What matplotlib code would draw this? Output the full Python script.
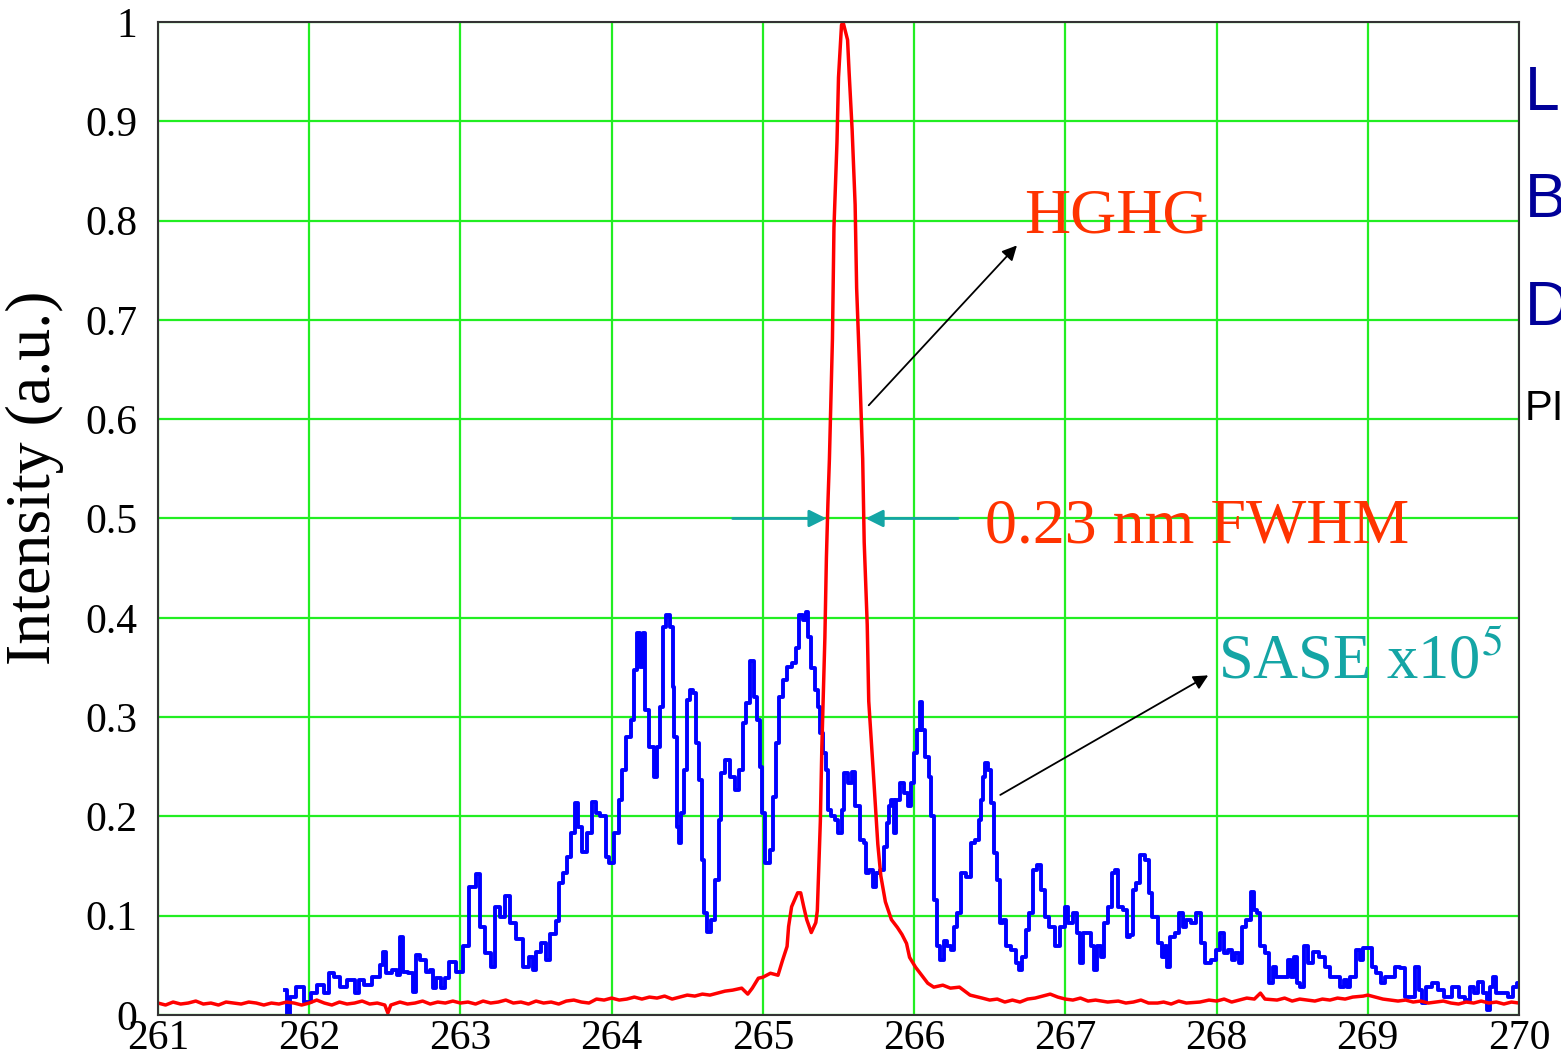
# HGHG vs SASE spectrum, redrawn from the reference picture

import matplotlib
matplotlib.use('Agg')
import matplotlib.pyplot as plt
import numpy as np

plt.rcParams['font.family'] = ['Liberation Serif', 'DejaVu Serif']
plt.rcParams['mathtext.fontset'] = 'stix'

# --- data (wavelength in nm, intensity in a.u.) ---
hghg_wl = [261.00, 261.05, 261.10, 261.15, 261.20, 261.25, 261.30, 261.35, 261.40, 261.45,
           261.50, 261.55, 261.60, 261.65, 261.70, 261.75, 261.80, 261.85, 261.90, 261.95,
           262.00, 262.05, 262.10, 262.15, 262.20, 262.25, 262.30, 262.35, 262.40, 262.45,
           262.50, 262.52, 262.54, 262.60, 262.65, 262.70, 262.75, 262.80, 262.85, 262.90,
           262.95, 263.00, 263.05, 263.10, 263.15, 263.20, 263.25, 263.30, 263.35, 263.40,
           263.45, 263.50, 263.55, 263.60, 263.65, 263.70, 263.75, 263.80, 263.85, 263.90,
           263.95, 264.00, 264.05, 264.10, 264.15, 264.20, 264.25, 264.30, 264.35, 264.40,
           264.45, 264.50, 264.55, 264.60, 264.65, 264.70, 264.75, 264.80, 264.86, 264.90,
           264.93, 264.97, 265.00, 265.05, 265.10, 265.13, 265.16, 265.17, 265.19, 265.23,
           265.25, 265.27, 265.29, 265.32, 265.35, 265.36, 265.37, 265.38, 265.39, 265.41,
           265.42, 265.43, 265.44, 265.46, 265.47, 265.49, 265.50, 265.52, 265.53, 265.56,
           265.57, 265.59, 265.61, 265.62, 265.64, 265.66, 265.67, 265.69, 265.70, 265.73,
           265.76, 265.78, 265.81, 265.85, 265.89, 265.92, 265.95, 265.97, 266.01, 266.05,
           266.09, 266.13, 266.19, 266.24, 266.30, 266.37, 266.45, 266.50, 266.55, 266.60,
           266.65, 266.70, 266.75, 266.80, 266.85, 266.90, 266.95, 267.00, 267.05, 267.10,
           267.15, 267.20, 267.28, 267.35, 267.40, 267.45, 267.50, 267.55, 267.61, 267.65,
           267.70, 267.75, 267.80, 267.89, 267.95, 268.00, 268.05, 268.10, 268.15, 268.20,
           268.25, 268.29, 268.32, 268.40, 268.45, 268.50, 268.55, 268.60, 268.65, 268.70,
           268.75, 268.80, 268.85, 268.90, 268.97, 269.00, 269.05, 269.10, 269.15, 269.20,
           269.25, 269.30, 269.35, 269.40, 269.45, 269.50, 269.55, 269.60, 269.65, 269.70,
           269.75, 269.80, 269.85, 269.90, 269.95, 270.00]
hghg_int = [0.012, 0.010, 0.013, 0.011, 0.012, 0.014, 0.011, 0.012, 0.010, 0.013,
            0.012, 0.011, 0.013, 0.012, 0.010, 0.012, 0.011, 0.013, 0.012, 0.010,
            0.012, 0.015, 0.012, 0.010, 0.013, 0.011, 0.012, 0.014, 0.011, 0.012,
            0.010, 0.002, 0.010, 0.013, 0.011, 0.012, 0.014, 0.011, 0.013, 0.012,
            0.014, 0.012, 0.013, 0.011, 0.014, 0.012, 0.013, 0.015, 0.012, 0.013,
            0.011, 0.014, 0.012, 0.013, 0.011, 0.014, 0.015, 0.013, 0.012, 0.016,
            0.015, 0.017, 0.015, 0.016, 0.018, 0.016, 0.018, 0.017, 0.019, 0.016,
            0.018, 0.020, 0.019, 0.021, 0.020, 0.022, 0.024, 0.025, 0.027, 0.021,
            0.027, 0.037, 0.038, 0.042, 0.040, 0.055, 0.069, 0.089, 0.109, 0.123,
            0.123, 0.109, 0.096, 0.083, 0.093, 0.105, 0.150, 0.195, 0.270, 0.380,
            0.460, 0.515, 0.560, 0.681, 0.793, 0.879, 0.944, 0.997, 1.000, 0.982,
            0.950, 0.892, 0.816, 0.732, 0.649, 0.560, 0.476, 0.393, 0.316, 0.245,
            0.172, 0.140, 0.114, 0.096, 0.088, 0.081, 0.072, 0.058, 0.048, 0.040,
            0.032, 0.028, 0.030, 0.027, 0.028, 0.020, 0.017, 0.015, 0.016, 0.013,
            0.015, 0.013, 0.016, 0.017, 0.019, 0.021, 0.018, 0.016, 0.015, 0.017,
            0.014, 0.015, 0.013, 0.014, 0.012, 0.013, 0.015, 0.012, 0.012, 0.013,
            0.011, 0.014, 0.012, 0.013, 0.015, 0.014, 0.016, 0.013, 0.015, 0.017,
            0.016, 0.022, 0.016, 0.015, 0.017, 0.014, 0.016, 0.015, 0.014, 0.016,
            0.015, 0.017, 0.016, 0.018, 0.019, 0.020, 0.018, 0.016, 0.015, 0.014,
            0.015, 0.013, 0.014, 0.012, 0.013, 0.014, 0.012, 0.011, 0.013, 0.012,
            0.014, 0.012, 0.013, 0.011, 0.013, 0.012]

sase_wl = [261.84, 261.86, 261.89, 261.94, 261.99, 262.03, 262.07, 262.12, 262.14, 262.19,
           262.22, 262.28, 262.32, 262.34, 262.38, 262.45, 262.48, 262.50, 262.52, 262.57,
           262.59, 262.61, 262.63, 262.68, 262.69, 262.72, 262.75, 262.79, 262.81, 262.83,
           262.85, 262.89, 262.91, 262.94, 263.00, 263.04, 263.08, 263.12, 263.14, 263.18,
           263.22, 263.24, 263.28, 263.31, 263.35, 263.39, 263.44, 263.47, 263.49, 263.51,
           263.55, 263.58, 263.61, 263.65, 263.66, 263.69, 263.72, 263.74, 263.77, 263.79,
           263.82, 263.86, 263.88, 263.91, 263.94, 263.98, 263.99, 264.04, 264.06, 264.08,
           264.11, 264.14, 264.16, 264.18, 264.20, 264.21, 264.23, 264.27, 264.29, 264.31,
           264.33, 264.35, 264.37, 264.40, 264.41, 264.42, 264.44, 264.45, 264.47, 264.49,
           264.51, 264.53, 264.55, 264.57, 264.59, 264.60, 264.62, 264.64, 264.67, 264.70,
           264.72, 264.73, 264.77, 264.80, 264.83, 264.86, 264.88, 264.90, 264.93, 264.95,
           264.97, 264.99, 265.00, 265.03, 265.06, 265.08, 265.10, 265.11, 265.15, 265.17,
           265.21, 265.23, 265.25, 265.28, 265.29, 265.31, 265.33, 265.36, 265.37, 265.39,
           265.41, 265.42, 265.44, 265.46, 265.49, 265.51, 265.53, 265.54, 265.58, 265.60,
           265.62, 265.66, 265.68, 265.69, 265.72, 265.73, 265.76, 265.79, 265.81, 265.83,
           265.84, 265.86, 265.87, 265.89, 265.92, 265.95, 265.97, 265.99, 266.01, 266.03,
           266.05, 266.06, 266.09, 266.11, 266.12, 266.14, 266.16, 266.18, 266.21, 266.23,
           266.26, 266.27, 266.30, 266.32, 266.37, 266.38, 266.42, 266.44, 266.45, 266.46,
           266.48, 266.50, 266.52, 266.54, 266.56, 266.57, 266.60, 266.62, 266.66, 266.69,
           266.70, 266.73, 266.75, 266.77, 266.80, 266.83, 266.85, 266.88, 266.91, 266.95,
           266.98, 267.01, 267.03, 267.07, 267.09, 267.11, 267.13, 267.16, 267.18, 267.20,
           267.22, 267.25, 267.26, 267.30, 267.32, 267.34, 267.36, 267.40, 267.41, 267.44,
           267.45, 267.48, 267.51, 267.55, 267.56, 267.59, 267.63, 267.65, 267.67, 267.68,
           267.71, 267.74, 267.76, 267.79, 267.81, 267.85, 267.88, 267.89, 267.91, 267.94,
           267.99, 268.00, 268.04, 268.06, 268.09, 268.11, 268.14, 268.16, 268.18, 268.21,
           268.24, 268.26, 268.28, 268.30, 268.34, 268.36, 268.38, 268.41, 268.47, 268.48,
           268.50, 268.52, 268.54, 268.57, 268.59, 268.62, 268.65, 268.70, 268.73, 268.77,
           268.80, 268.83, 268.85, 268.87, 268.90, 268.94, 268.96, 268.98, 269.02, 269.04,
           269.07, 269.10, 269.13, 269.16, 269.20, 269.23, 269.26, 269.29, 269.33, 269.35,
           269.37, 269.40, 269.45, 269.48, 269.53, 269.59, 269.62, 269.66, 269.69, 269.72,
           269.74, 269.78, 269.80, 269.82, 269.84, 269.86, 269.91, 269.94, 269.98, 270.00]
sase_int = [0.025, 0.000, 0.018, 0.028, 0.013, 0.022, 0.030, 0.022, 0.042, 0.038,
            0.028, 0.035, 0.022, 0.035, 0.030, 0.038, 0.050, 0.063, 0.042, 0.045,
            0.040, 0.079, 0.043, 0.042, 0.023, 0.060, 0.055, 0.043, 0.045, 0.027,
            0.037, 0.027, 0.037, 0.053, 0.043, 0.069, 0.129, 0.142, 0.089, 0.062,
            0.048, 0.109, 0.099, 0.120, 0.093, 0.076, 0.048, 0.058, 0.045, 0.063,
            0.072, 0.055, 0.082, 0.095, 0.133, 0.143, 0.159, 0.183, 0.213, 0.189,
            0.164, 0.183, 0.214, 0.203, 0.200, 0.159, 0.153, 0.183, 0.216, 0.247,
            0.280, 0.297, 0.347, 0.385, 0.350, 0.385, 0.307, 0.270, 0.240, 0.270,
            0.310, 0.391, 0.403, 0.391, 0.330, 0.280, 0.189, 0.173, 0.203, 0.247,
            0.317, 0.327, 0.324, 0.274, 0.237, 0.156, 0.103, 0.084, 0.096, 0.136,
            0.196, 0.244, 0.257, 0.240, 0.227, 0.247, 0.294, 0.314, 0.356, 0.320,
            0.297, 0.250, 0.203, 0.153, 0.166, 0.220, 0.274, 0.320, 0.337, 0.350,
            0.354, 0.370, 0.403, 0.398, 0.406, 0.381, 0.349, 0.327, 0.310, 0.284,
            0.264, 0.247, 0.206, 0.200, 0.196, 0.183, 0.206, 0.244, 0.234, 0.245,
            0.210, 0.176, 0.173, 0.143, 0.146, 0.129, 0.143, 0.146, 0.169, 0.193,
            0.210, 0.216, 0.183, 0.216, 0.234, 0.224, 0.210, 0.234, 0.264, 0.287,
            0.315, 0.287, 0.260, 0.240, 0.200, 0.116, 0.069, 0.055, 0.074, 0.069,
            0.065, 0.089, 0.103, 0.143, 0.139, 0.173, 0.176, 0.196, 0.216, 0.240,
            0.254, 0.247, 0.213, 0.163, 0.136, 0.093, 0.096, 0.069, 0.065, 0.052,
            0.045, 0.058, 0.086, 0.103, 0.146, 0.151, 0.126, 0.099, 0.089, 0.069,
            0.089, 0.109, 0.093, 0.103, 0.083, 0.052, 0.083, 0.083, 0.069, 0.045,
            0.069, 0.058, 0.093, 0.109, 0.143, 0.146, 0.109, 0.106, 0.079, 0.081,
            0.126, 0.133, 0.161, 0.156, 0.123, 0.099, 0.072, 0.058, 0.069, 0.048,
            0.079, 0.083, 0.103, 0.089, 0.096, 0.093, 0.103, 0.103, 0.072, 0.052,
            0.055, 0.065, 0.083, 0.062, 0.065, 0.055, 0.062, 0.052, 0.089, 0.096,
            0.124, 0.106, 0.103, 0.069, 0.062, 0.032, 0.048, 0.038, 0.038, 0.055,
            0.038, 0.058, 0.032, 0.028, 0.069, 0.052, 0.063, 0.058, 0.048, 0.038,
            0.038, 0.028, 0.035, 0.028, 0.038, 0.065, 0.055, 0.067, 0.067, 0.048,
            0.042, 0.032, 0.038, 0.038, 0.048, 0.047, 0.018, 0.018, 0.048, 0.025,
            0.012, 0.028, 0.032, 0.025, 0.018, 0.028, 0.018, 0.015, 0.028, 0.022,
            0.033, 0.022, 0.005, 0.028, 0.038, 0.022, 0.022, 0.018, 0.028, 0.032]

x_ticks = [261, 262, 263, 264, 265, 266, 267, 268, 269, 270]
y_ticks = [0, 0.1, 0.2, 0.3, 0.4, 0.5, 0.6, 0.7, 0.8, 0.9, 1]
y_tick_labels = ['0', '0.1', '0.2', '0.3', '0.4', '0.5', '0.6', '0.7', '0.8', '0.9', '1']

# --- colours ---
color_hghg = '#ff0000'
color_sase = '#0000ff'
color_text = '#ff3300'
color_teal = '#14a5a5'
color_grid = '#22ee22'
color_side = '#000099'

fig = plt.figure(figsize=(15.61, 10.63), dpi=100)
ax = fig.add_axes([0.1012, 0.0452, 0.8719, 0.9341])

# stepped look of the original trace
ax.plot(sase_wl, sase_int, color=color_sase, lw=2.8, zorder=3, drawstyle='steps-mid')
ax.plot(hghg_wl, hghg_int, color=color_hghg, lw=2.5, zorder=4)

ax.set_xlim(261, 270)
ax.set_ylim(0, 1)
ax.set_xticks(x_ticks)
ax.set_xticklabels([str(t) for t in x_ticks], fontsize=30)
ax.set_yticks(y_ticks)
ax.set_yticklabels(y_tick_labels, fontsize=30)
ax.tick_params(axis='both', length=0)
ax.tick_params(axis='x', pad=3)
ax.tick_params(axis='y', pad=15)
ax.grid(True, color=color_grid, lw=1.6, zorder=1)
ax.set_axisbelow(True)
for sp in ax.spines.values():
    sp.set_color('#333333')
    sp.set_linewidth(1.5)
    sp.set_zorder(5)

fig.text(35 / 1561, 1 - 478 / 1063, 'Intensity (a.u.)', rotation=90,
         fontsize=46, ha='center', va='center')

# --- annotations ---
ax.text(267.34, 0.7885, 'HGHG', color=color_text, fontsize=46,
        ha='center', va='baseline', zorder=6)
ax.annotate('', xy=(266.68, 0.775), xytext=(265.70, 0.614),
            arrowprops=dict(arrowstyle='-|>', color='black', lw=1.3,
                            mutation_scale=22, shrinkA=0, shrinkB=0), zorder=6)

ax.text(266.47, 0.476, '0.23 nm FWHM', color=color_text, fontsize=46,
        ha='left', va='baseline', zorder=6)
ax.annotate('', xy=(265.42, 0.5), xytext=(264.80, 0.5),
            arrowprops=dict(arrowstyle='-|>', color=color_teal, lw=2,
                            mutation_scale=26, shrinkA=0, shrinkB=0), zorder=6)
ax.annotate('', xy=(265.68, 0.5), xytext=(266.29, 0.5),
            arrowprops=dict(arrowstyle='-|>', color=color_teal, lw=2,
                            mutation_scale=26, shrinkA=0, shrinkB=0), zorder=6)

ax.text(268.01, 0.339, r'SASE x10$^{5}$', color=color_teal, fontsize=45,
        ha='left', va='baseline', zorder=6)
ax.annotate('', xy=(267.945, 0.342), xytext=(266.57, 0.2216),
            arrowprops=dict(arrowstyle='-|>', color='black', lw=1.3,
                            mutation_scale=22, shrinkA=0, shrinkB=0), zorder=6)

# --- clipped side text at right edge (cut off in the original too) ---
side_font = ['Liberation Sans', 'DejaVu Sans']
fig.text(1525 / 1561, 1 - 110 / 1063, 'L', color=color_side, fontsize=45,
         family=side_font, va='baseline')
fig.text(1525 / 1561, 1 - 217 / 1063, 'B', color=color_side, fontsize=45,
         family=side_font, va='baseline')
fig.text(1525 / 1561, 1 - 325 / 1063, 'D', color=color_side, fontsize=45,
         family=side_font, va='baseline')
fig.text(1525 / 1561, 1 - 420 / 1063, 'PI', color='black', fontsize=30,
         family=side_font, va='baseline')

fig.savefig('out.png', dpi=100)
